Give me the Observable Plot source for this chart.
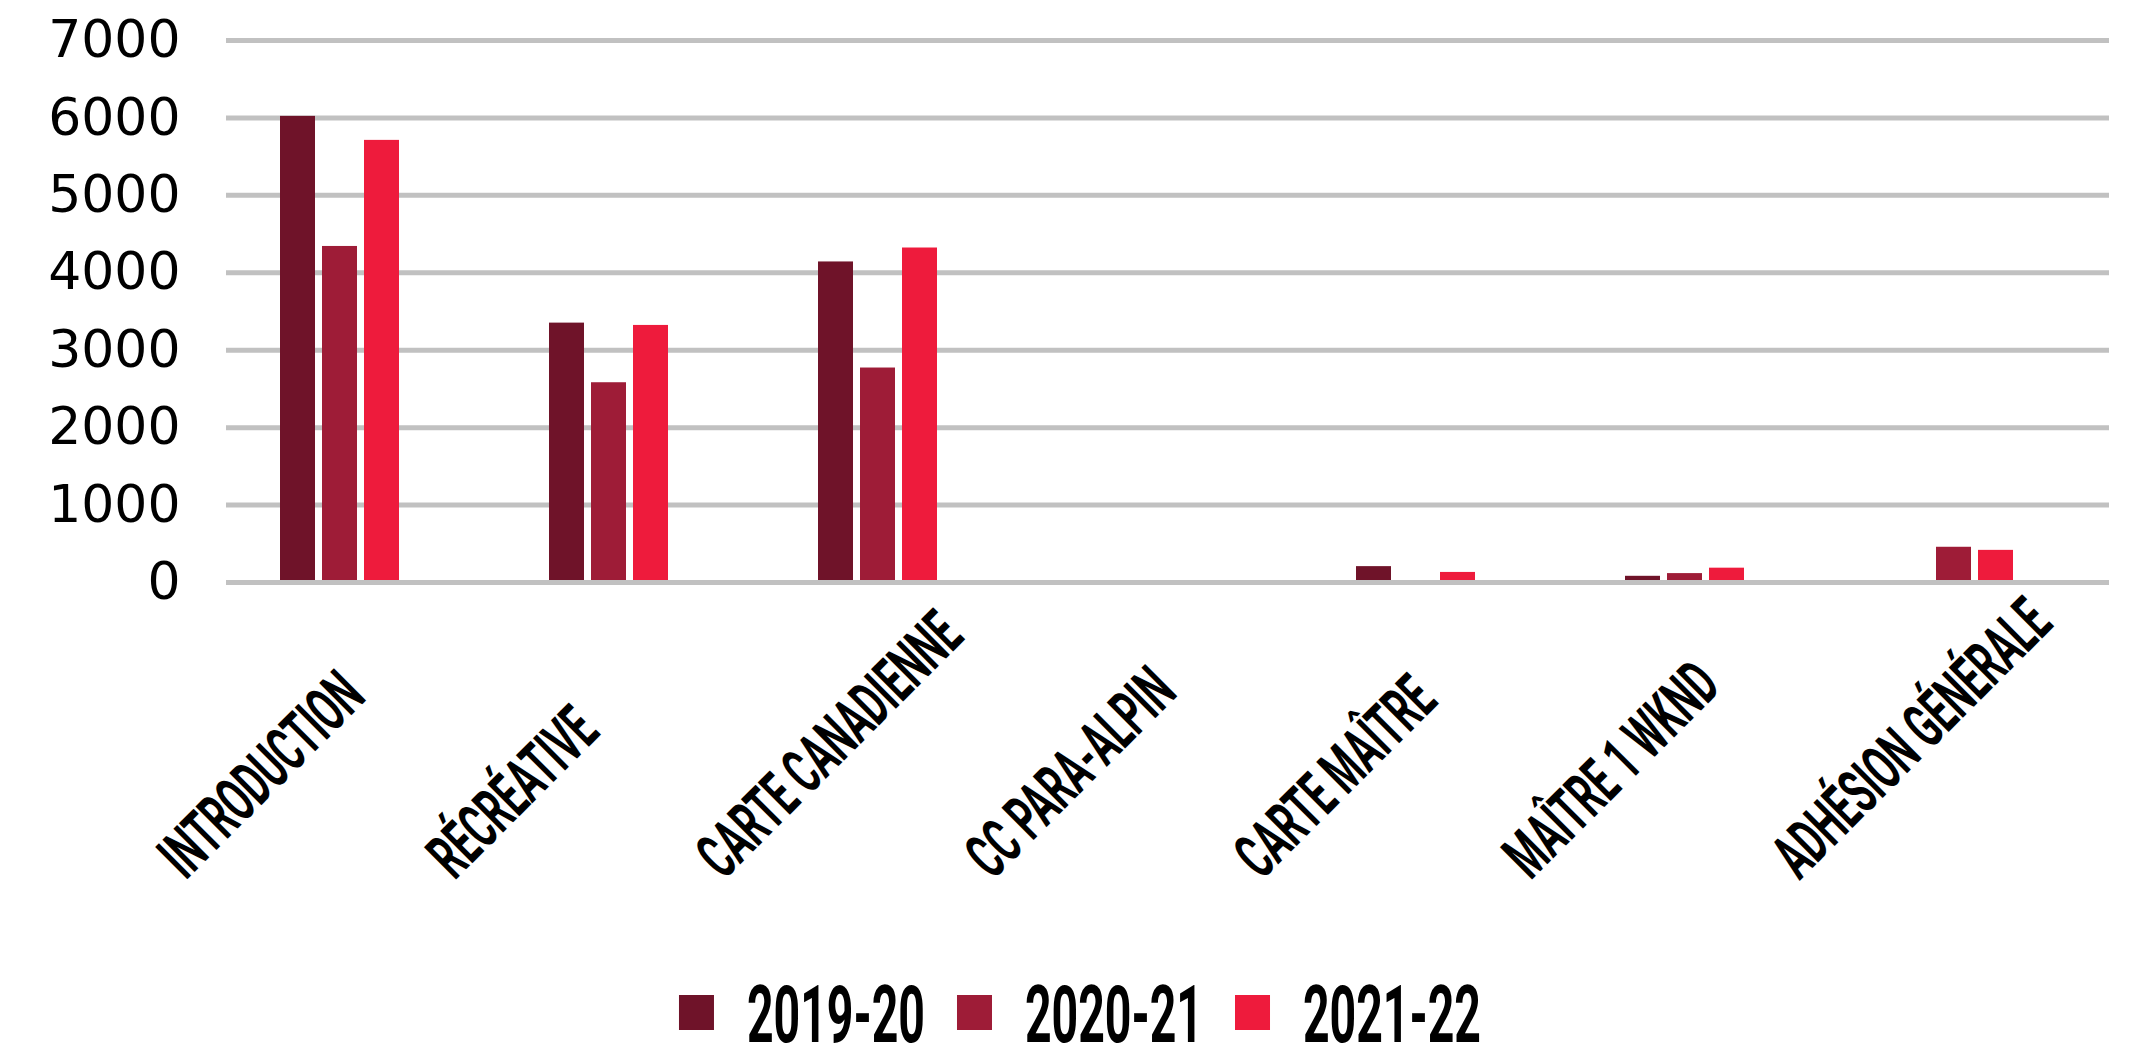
<!DOCTYPE html>
<html>
<head>
<meta charset="utf-8">
<script src="https://cdn.jsdelivr.net/npm/d3@7"></script>
<script src="https://cdn.jsdelivr.net/npm/@observablehq/plot@0.6"></script>
<style>
  html, body { margin: 0; padding: 0; background: #ffffff; }
  #chart svg { display: block; }
</style>
</head>
<body>
<div id="chart"></div>
<script>
// ---- data ----
const categories = ["INTRODUCTION", "RÉCRÉATIVE", "CARTE CANADIENNE", "CC PARA-ALPIN", "CARTE MAÎTRE", "MAÎTRE 1 WKND", "ADHÉSION GÉNÉRALE"];
const years = ["2019-20", "2020-21", "2021-22"];
const values2019_20 = [6020, 3350, 4140, 0, 205, 80, 0];
const values2020_21 = [4340, 2580, 2770, 0, 0, 115, 455];
const values2021_22 = [5710, 3320, 4320, 0, 130, 185, 415];
const yTicks = [0, 1000, 2000, 3000, 4000, 5000, 6000, 7000];
const colors = ["#6f1329", "#9e1c37", "#ee1b3c"];

const series = [values2019_20, values2020_21, values2021_22];
const data = years.flatMap((yr, j) => categories.map((c, i) => ({cat: c, year: yr, value: series[j][i]})));

const labelCondense = 0.56;
const legendCondense = 0.58;
const gridColor = "#c1c1c1";

const chart = Plot.plot({
  width: 2136,
  height: 960,
  marginTop: 40,
  marginBottom: 378,
  marginLeft: 225,
  marginRight: 26,
  style: {fontFamily: "DejaVu Sans", background: "#ffffff", color: "#000000"},
  fx: {domain: categories, padding: 0, axis: null},
  x: {domain: years, paddingInner: 0.1667, paddingOuter: 0, insetLeft: 54, insetRight: 96, axis: null},
  y: {domain: [0, 7000], label: null},
  color: {domain: years, range: colors},
  marks: [
    Plot.gridY(yTicks, {stroke: gridColor, strokeOpacity: 1, strokeWidth: 5}),
    Plot.barY(data, {fx: "cat", x: "year", y: "value", fill: "year"}),
    Plot.ruleY([0], {stroke: gridColor, strokeWidth: 5}),
    Plot.axisY(yTicks, {label: null, tickSize: 0, tickPadding: 46, tickFormat: d => String(d), fontSize: 52, fontFamily: "DejaVu Sans", fill: "#000000"}),
    Plot.text(categories, {
      fx: d => d, text: d => d, frameAnchor: "bottom", rotate: -45,
      textAnchor: "start", lineAnchor: "middle", dx: -190, dy: 284,
      fontSize: 64, fontWeight: 700, fontFamily: "Roboto", fill: "#000000"
    })
  ]
});

document.getElementById("chart").appendChild(chart);
const catSet = new Set(categories);
chart.querySelectorAll("text").forEach(t => {
  if (catSet.has(t.textContent)) {
    t.setAttribute("transform", (t.getAttribute("transform") || "") + ` scale(${labelCondense},1)`);
  }
});

// ---- legend (below the plot) ----
const legW = 2136, legH = 87;
const leg = d3.create("svg").attr("width", legW).attr("height", legH).style("display", "block");
document.getElementById("chart").appendChild(leg.node());
const sw = 35, gapText = 33, gapItem = 32, legendShift = 12;
const items = years.map((yr, i) => {
  const g = leg.append("g");
  g.append("rect").attr("width", sw).attr("height", sw).attr("y", 35).attr("fill", colors[i]);
  const t = g.append("text").text(yr)
    .attr("font-family", "Roboto").attr("font-weight", 700).attr("font-size", 80).attr("fill", "#000");
  const w = t.node().getComputedTextLength() * legendCondense;
  return {g, t, w};
});
const total = items.reduce((s, it) => s + sw + gapText + it.w, 0) + gapItem * (items.length - 1);
let cx = (legW - total) / 2 + legendShift;
items.forEach(it => {
  it.g.select("rect").attr("x", cx);
  it.t.attr("transform", `translate(${cx + sw + gapText},82) scale(${legendCondense},1)`);
  cx += sw + gapText + it.w + gapItem;
});
</script>
</body>
</html>
